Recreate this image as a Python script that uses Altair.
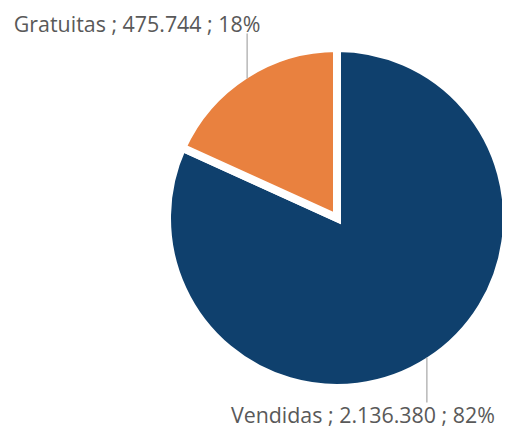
import math
import altair as alt
import pandas as pd

categories = ["Vendidas", "Gratuitas"]
values = [2136380, 475744]
value_labels = ["2.136.380", "475.744"]
colors = ["#0F406D", "#E9813F"]

total = sum(values)
rows = []
start = 0.0
for i, (c, v, vl) in enumerate(zip(categories, values, value_labels)):
    frac = v / total
    mid = start + frac / 2
    ang = mid * 2 * math.pi
    x = math.sin(ang)
    y = math.cos(ang)
    sign = 1 if y > 0 else -1
    rows.append({
        "cat": c, "val": v, "order": i,
        "label": f"{c} ; {vl} ; {round(frac * 100)}%",
        "cx": 0.0, "cy": 0.0,
        "lx": x, "ly": y, "ly2": y + sign * 0.27,
    })
    start += frac
df = pd.DataFrame(rows)

R = 166
W, H = 494, 420
CX, CY = 329, 210
xs = alt.Scale(domain=[-CX / R, (W - CX) / R], nice=False, zero=False)
ys = alt.Scale(domain=[-(H - CY) / R, CY / R], nice=False, zero=False)
noax = None

base = alt.Chart(df)

pie = base.mark_arc(outerRadius=R + 4, stroke="white", strokeWidth=8).encode(
    x=alt.X("cx:Q", scale=xs, axis=noax),
    y=alt.Y("cy:Q", scale=ys, axis=noax),
    theta=alt.Theta("val:Q", stack=True),
    order=alt.Order("order:O"),
    color=alt.Color("cat:N", scale=alt.Scale(domain=categories, range=colors), legend=None),
)

leader = base.mark_rule(color="#A6A6A6", strokeWidth=1.2).encode(
    x=alt.X("lx:Q", scale=xs, axis=noax),
    y=alt.Y("ly:Q", scale=ys, axis=noax),
    y2="ly2:Q",
)

font = dict(font="Open Sans", fontSize=21.4, color="#595959", baseline="alphabetic", align="center")
lab_g = base.transform_filter(alt.datum.cat == "Gratuitas").mark_text(dx=-110, dy=-2, **font).encode(
    x=alt.X("lx:Q", scale=xs, axis=noax),
    y=alt.Y("ly2:Q", scale=ys, axis=noax),
    text="label:N",
)
lab_v = base.transform_filter(alt.datum.cat == "Vendidas").mark_text(dx=-64, dy=21, **font).encode(
    x=alt.X("lx:Q", scale=xs, axis=noax),
    y=alt.Y("ly2:Q", scale=ys, axis=noax),
    text="label:N",
)

chart = alt.layer(pie, leader, lab_g, lab_v).properties(
    width=W, height=H, padding=0, autosize="none"
).configure_view(stroke=None)

chart.save("out.html", embed_options={"renderer": "svg", "actions": False})
